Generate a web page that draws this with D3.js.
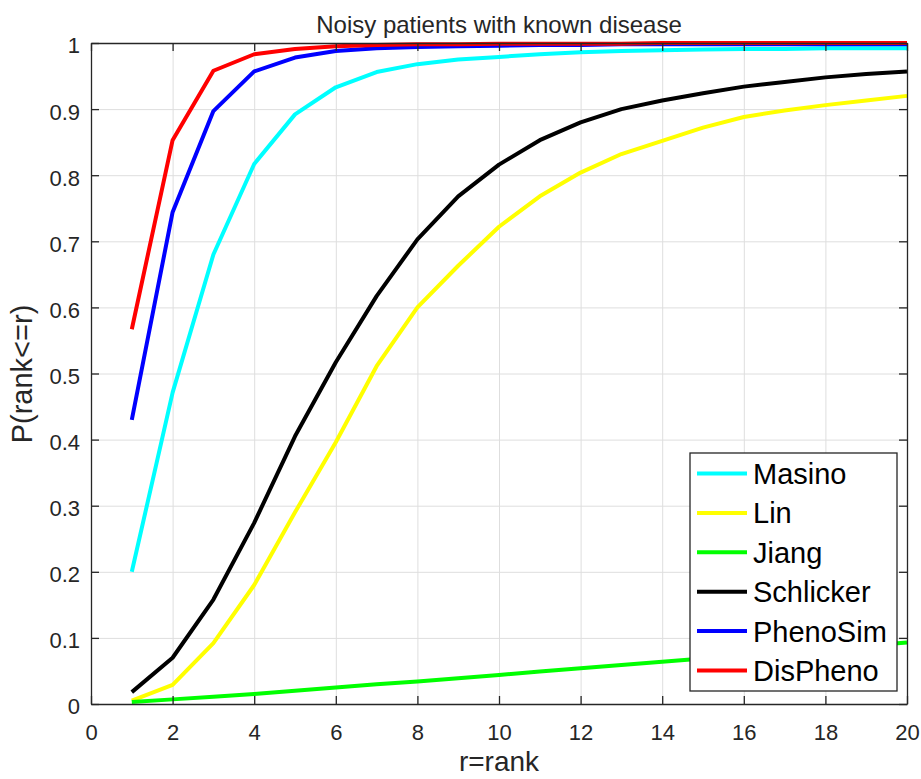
<!DOCTYPE html>
<html>
<head>
<meta charset="utf-8">
<script src="https://cdn.jsdelivr.net/npm/d3@7"></script>
<style>
  body { margin: 0; background: #fff; }
  text { font-family: "Liberation Sans", Arial, sans-serif; }
</style>
</head>
<body>
<div id="chart"></div>
<script>
// data
var ranks = [1, 2, 3, 4, 5, 6, 7, 8, 9, 10, 11, 12, 13, 14, 15, 16, 17, 18, 19, 20];
var masino    = [0.200, 0.471, 0.680, 0.817, 0.892, 0.933, 0.956, 0.968, 0.975, 0.979, 0.983, 0.986, 0.988, 0.989, 0.990, 0.991, 0.991, 0.992, 0.992, 0.992];
var lin       = [0.005, 0.029, 0.092, 0.180, 0.290, 0.396, 0.511, 0.600, 0.663, 0.722, 0.768, 0.804, 0.832, 0.852, 0.872, 0.888, 0.898, 0.906, 0.913, 0.920];
var jiang     = [0.003, 0.007, 0.011, 0.015, 0.020, 0.025, 0.030, 0.034, 0.039, 0.044, 0.049, 0.054, 0.059, 0.064, 0.069, 0.074, 0.078, 0.083, 0.088, 0.093];
var schlicker = [0.018, 0.070, 0.158, 0.274, 0.405, 0.517, 0.617, 0.703, 0.768, 0.816, 0.853, 0.880, 0.900, 0.913, 0.924, 0.934, 0.941, 0.948, 0.953, 0.957];
var phenosim  = [0.430, 0.744, 0.897, 0.957, 0.978, 0.988, 0.992, 0.994, 0.995, 0.996, 0.997, 0.997, 0.998, 0.998, 0.998, 0.998, 0.998, 0.998, 0.998, 0.998];
var dispheno  = [0.567, 0.853, 0.958, 0.983, 0.991, 0.995, 0.997, 0.998, 0.998, 0.999, 0.999, 0.999, 0.999, 1.000, 1.000, 1.000, 1.000, 1.000, 1.000, 1.000];

var seriesNames  = ["Masino", "Lin", "Jiang", "Schlicker", "PhenoSim", "DisPheno"];
var seriesValues = [masino, lin, jiang, schlicker, phenosim, dispheno];
var seriesColors = ["#00ffff", "#ffff00", "#00ff00", "#000000", "#0000ff", "#ff0000"];

var xTicks = [0, 2, 4, 6, 8, 10, 12, 14, 16, 18, 20];
var yTicks = [0, 0.1, 0.2, 0.3, 0.4, 0.5, 0.6, 0.7, 0.8, 0.9, 1];

// svg size
var svgWidth = 921;
var svgHeight = 779;

var margin = { top: 43, right: 14, bottom: 75, left: 91 };
var width = svgWidth - margin.left - margin.right;   // 816
var height = svgHeight - margin.top - margin.bottom; // 661

var axisColor = "#262626";

var svg = d3.select("#chart")
  .append("svg")
  .attr("width", svgWidth)
  .attr("height", svgHeight);

var chartGroup = svg.append("g")
  .attr("transform", `translate(${margin.left}, ${margin.top})`);

// scales
var xScale = d3.scaleLinear().domain([0, 20]).range([0, width]);
var yScale = d3.scaleLinear().domain([0, 1]).range([height, 0]);

// grid
chartGroup.append("g")
  .attr("class", "grid")
  .attr("transform", `translate(0, ${height})`)
  .call(d3.axisBottom(xScale).tickValues(xTicks).tickSize(-height).tickFormat(""))
  .call(g => g.select(".domain").remove());

chartGroup.append("g")
  .attr("class", "grid")
  .call(d3.axisLeft(yScale).tickValues(yTicks).tickSize(-width).tickFormat(""))
  .call(g => g.select(".domain").remove());

chartGroup.selectAll(".grid line")
  .attr("stroke", "#dedede")
  .attr("stroke-width", 1);

// lines
var line = d3.line()
  .x((d, i) => xScale(ranks[i]))
  .y(d => yScale(d));

chartGroup.selectAll(".series")
  .data(seriesValues)
  .enter()
  .append("path")
  .attr("class", "series")
  .attr("d", d => line(d))
  .attr("fill", "none")
  .attr("stroke", (d, i) => seriesColors[i])
  .attr("stroke-width", 4)
  .attr("stroke-linejoin", "round");

// axes, ticks pointing inward on all four sides
var bottomAxis = d3.axisBottom(xScale).tickValues(xTicks).tickSizeInner(-8).tickSizeOuter(0).tickPadding(20);
var leftAxis = d3.axisLeft(yScale).tickValues(yTicks).tickSizeInner(-8).tickSizeOuter(0).tickPadding(11)
  .tickFormat(d => d3.format("")(+d.toFixed(1)));
var topAxis = d3.axisTop(xScale).tickValues(xTicks).tickSizeInner(-8).tickSizeOuter(0).tickFormat("");
var rightAxis = d3.axisRight(yScale).tickValues(yTicks).tickSizeInner(-8).tickSizeOuter(0).tickFormat("");

var axes = [];
axes.push(chartGroup.append("g").attr("transform", `translate(0, ${height})`).call(bottomAxis));
axes.push(chartGroup.append("g").call(leftAxis));
axes.push(chartGroup.append("g").call(topAxis));
axes.push(chartGroup.append("g").attr("transform", `translate(${width}, 0)`).call(rightAxis));

axes.forEach(function(g) {
  g.select(".domain").attr("stroke", axisColor).attr("stroke-width", 1.3);
  g.selectAll(".tick line").attr("stroke", axisColor).attr("stroke-width", 1.3);
  g.selectAll(".tick text")
    .attr("fill", axisColor)
    .attr("font-size", "22px")
    .attr("font-family", "Liberation Sans, Arial, sans-serif");
});
axes[1].selectAll(".tick text").attr("dy", "0.45em");

// title and axis labels
svg.append("text")
  .attr("x", margin.left + width / 2)
  .attr("y", 33)
  .attr("text-anchor", "middle")
  .attr("font-size", "24px")
  .attr("fill", axisColor)
  .text("Noisy patients with known disease");

svg.append("text")
  .attr("x", margin.left + width / 2)
  .attr("y", 771)
  .attr("text-anchor", "middle")
  .attr("font-size", "28px")
  .attr("fill", axisColor)
  .text("r=rank");

svg.append("text")
  .attr("transform", "translate(32, 374) rotate(-90)")
  .attr("text-anchor", "middle")
  .attr("font-size", "29px")
  .attr("fill", axisColor)
  .text("P(rank<=r)");

// legend
var legend = svg.append("g").attr("transform", "translate(690, 453)");

legend.append("rect")
  .attr("width", 207)
  .attr("height", 238)
  .attr("fill", "#fff")
  .attr("stroke", axisColor)
  .attr("stroke-width", 1.3);

var items = legend.selectAll(".item")
  .data(seriesNames)
  .enter()
  .append("g")
  .attr("class", "item")
  .attr("transform", (d, i) => `translate(0, ${20.5 + i * 39.4})`);

items.append("line")
  .attr("x1", 7)
  .attr("x2", 57)
  .attr("stroke", (d, i) => seriesColors[i])
  .attr("stroke-width", 4);

items.append("text")
  .attr("x", 63)
  .attr("dy", "0.36em")
  .attr("font-size", "29px")
  .attr("fill", "#000")
  .text(d => d);
</script>
</body>
</html>
